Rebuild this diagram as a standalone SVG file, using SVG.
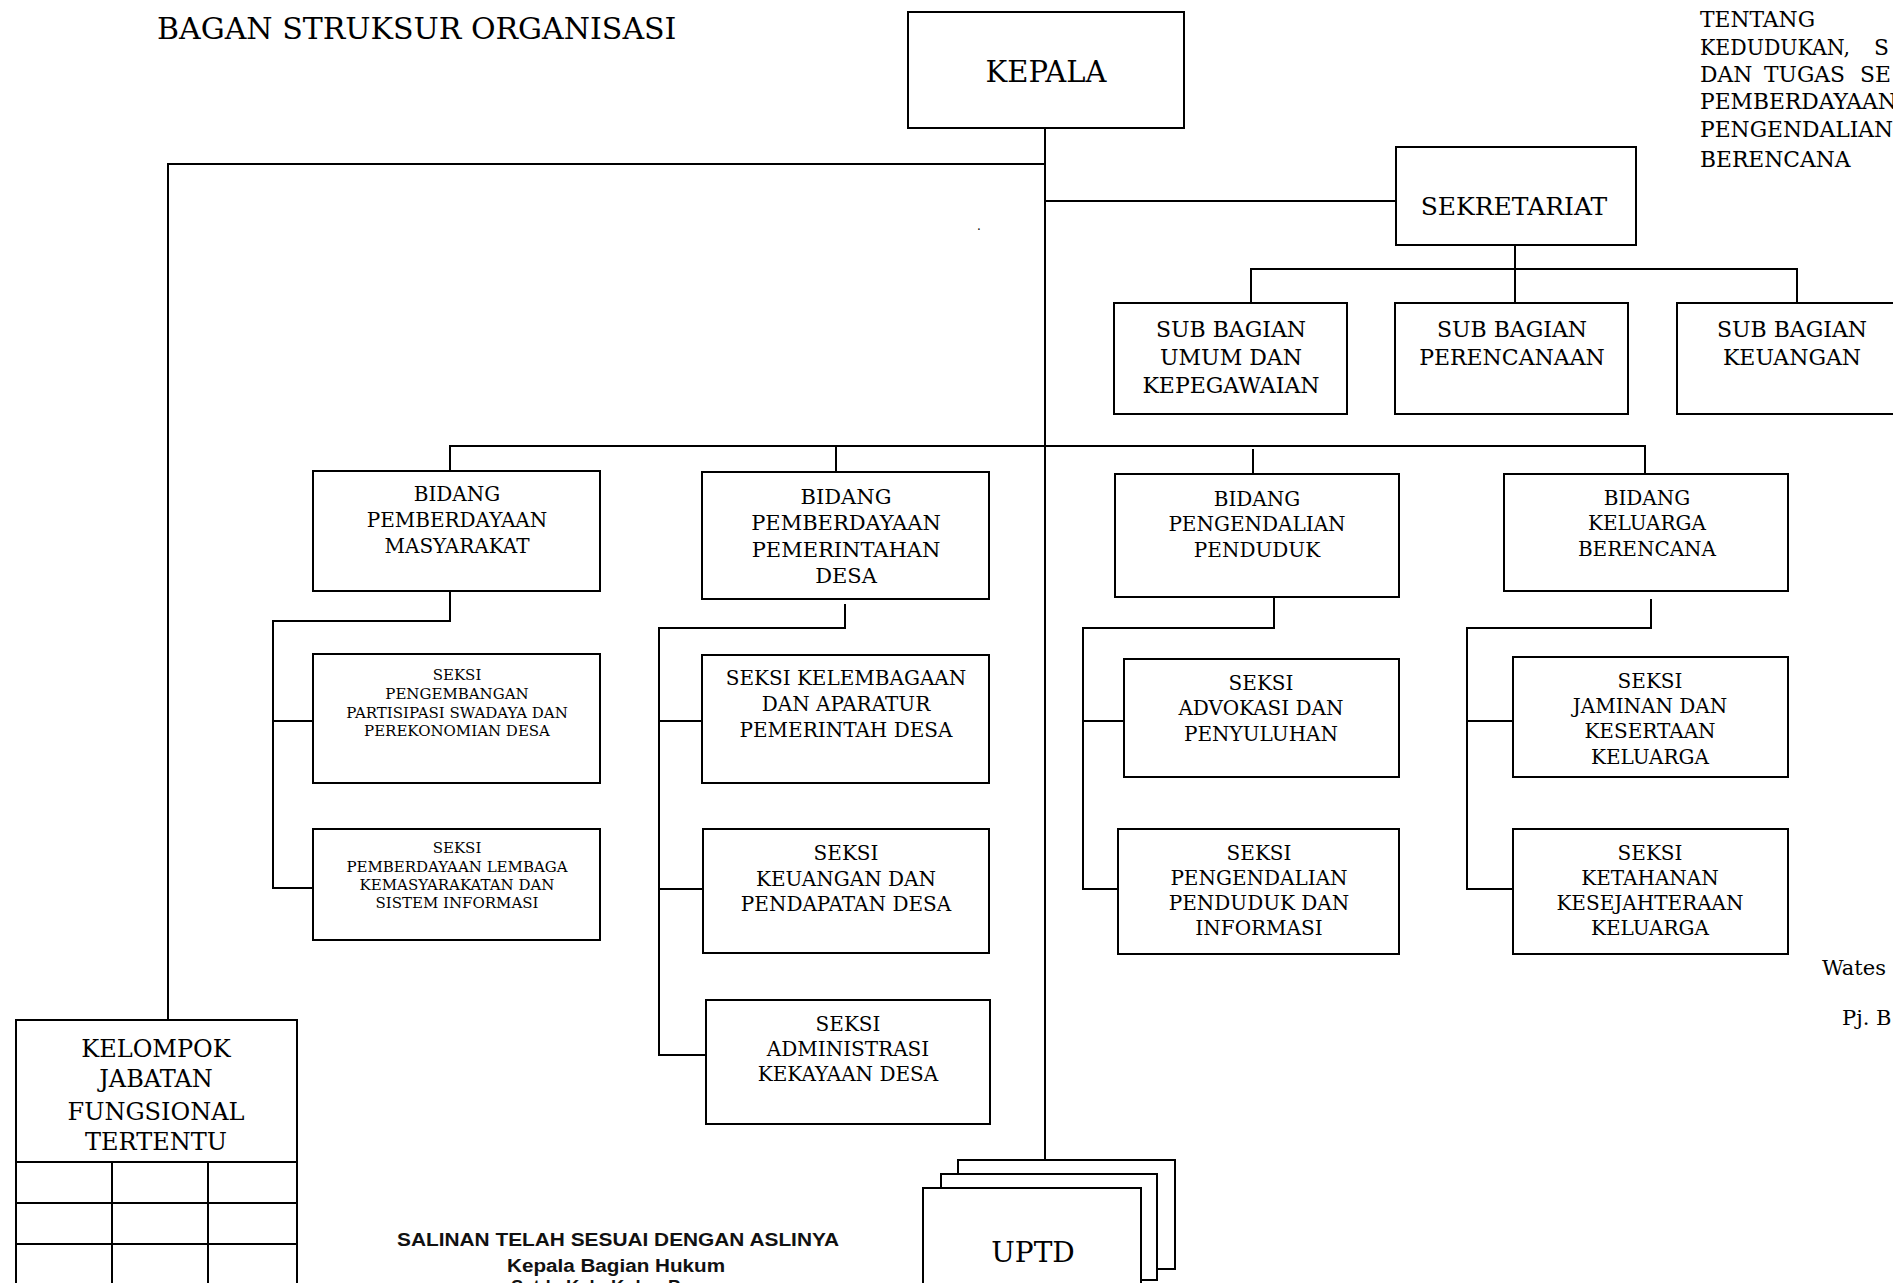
<svg xmlns="http://www.w3.org/2000/svg" width="1893" height="1283" viewBox="0 0 1893 1283">
<style>
.box{fill:#fff;stroke:#000;stroke-width:2}
.ln{fill:none;stroke:#000;stroke-width:2}
text{font-family:"DejaVu Serif","Liberation Serif",serif;fill:#000}
.c{text-anchor:middle}
.s20{font-size:20px}
.s21{font-size:21px}
.s22{font-size:22px}
.sm{font-size:15px}
.sal{font-family:"Liberation Sans",Arial,sans-serif;font-weight:bold;font-size:18px;fill:#111}
</style>
<rect x="0" y="0" width="1893" height="1283" fill="#fff"/>
<text x="157" y="39" font-size="30">BAGAN STRUKSUR ORGANISASI</text>
<g id="header-note" font-size="21.8">
<text x="1700" y="27">TENTANG</text>
<text y="55"><tspan x="1700" textLength="150" lengthAdjust="spacingAndGlyphs">KEDUDUKAN,</tspan><tspan x="1874">S</tspan></text>
<text y="82"><tspan x="1700">DAN</tspan><tspan x="1764">TUGAS</tspan><tspan x="1860">SE</tspan></text>
<text x="1700" y="109">PEMBERDAYAAN</text>
<text x="1700" y="137">PENGENDALIAN</text>
<text x="1700" y="167">BERENCANA</text>
<text x="1822" y="975" font-size="21">Wates</text>
<text x="1842" y="1025" font-size="21">Pj. B</text>
<text x="977" y="230" font-size="12">.</text>
</g>
<g id="connectors">
<path class="ln" d="M1045 128V1160"/>
<path class="ln" d="M1045 164H168V1020"/>
<path class="ln" d="M1045 201H1396"/>
<path class="ln" d="M1515 245V303"/>
<path class="ln" d="M1251 303V269H1797V303"/>
<path class="ln" d="M450 471V446H1645V474"/>
<path class="ln" d="M836 446V472"/>
<path class="ln" d="M1253 449V474"/>
<path class="ln" d="M450 591V621H273V888H313M273 721H313"/>
<path class="ln" d="M845 604V628H659V1055H706M659 721H702M659 889H703"/>
<path class="ln" d="M1274 597V628H1083V889H1118M1083 721H1124"/>
<path class="ln" d="M1651 599V628H1467V889H1513M1467 721H1513"/>
</g>
<g id="kepala"><rect class="box" x="908" y="12" width="276" height="116"/><text class="c" x="1046" y="82" font-size="29">KEPALA</text></g>
<g id="sekretariat"><rect class="box" x="1396" y="147" width="240" height="98"/><text class="c" x="1514" y="215" font-size="25">SEKRETARIAT</text></g>
<g id="sub-umum" class="s22"><rect class="box" x="1114" y="303" width="233" height="111"/><text class="c" x="1231" y="337">SUB BAGIAN</text><text class="c" x="1231" y="365">UMUM DAN</text><text class="c" x="1231" y="393">KEPEGAWAIAN</text></g>
<g id="sub-perencanaan" class="s22"><rect class="box" x="1395" y="303" width="233" height="111"/><text class="c" x="1512" y="337">SUB BAGIAN</text><text class="c" x="1512" y="365">PERENCANAAN</text></g>
<g id="sub-keuangan" class="s22"><rect class="box" x="1677" y="303" width="240" height="111"/><text class="c" x="1792" y="337">SUB BAGIAN</text><text class="c" x="1792" y="365">KEUANGAN</text></g>
<g id="bidang-pm" class="s20"><rect class="box" x="313" y="471" width="287" height="120"/><text class="c" x="457" y="501">BIDANG</text><text class="c" x="457" y="527">PEMBERDAYAAN</text><text class="c" x="457" y="553">MASYARAKAT</text></g>
<g id="bidang-ppd" class="s21"><rect class="box" x="702" y="472" width="287" height="127"/><text class="c" x="846" y="504">BIDANG</text><text class="c" x="846" y="530">PEMBERDAYAAN</text><text class="c" x="846" y="557">PEMERINTAHAN</text><text class="c" x="846" y="583">DESA</text></g>
<g id="bidang-pp" class="s20"><rect class="box" x="1115" y="474" width="284" height="123"/><text class="c" x="1257" y="506">BIDANG</text><text class="c" x="1257" y="531">PENGENDALIAN</text><text class="c" x="1257" y="557">PENDUDUK</text></g>
<g id="bidang-kb" class="s20"><rect class="box" x="1504" y="474" width="284" height="117"/><text class="c" x="1647" y="505">BIDANG</text><text class="c" x="1647" y="530">KELUARGA</text><text class="c" x="1647" y="556">BERENCANA</text></g>
<g id="seksi-pengembangan" class="sm"><rect class="box" x="313" y="654" width="287" height="129"/><text class="c" x="457" y="680">SEKSI</text><text class="c" x="457" y="699">PENGEMBANGAN</text><text class="c" x="457" y="718">PARTISIPASI SWADAYA DAN</text><text class="c" x="457" y="736">PEREKONOMIAN DESA</text></g>
<g id="seksi-lembaga" class="sm"><rect class="box" x="313" y="829" width="287" height="111"/><text class="c" x="457" y="853">SEKSI</text><text class="c" x="457" y="872">PEMBERDAYAAN LEMBAGA</text><text class="c" x="457" y="890">KEMASYARAKATAN DAN</text><text class="c" x="457" y="908">SISTEM INFORMASI</text></g>
<g id="seksi-kelembagaan" class="s20"><rect class="box" x="702" y="655" width="287" height="128"/><text class="c" x="846" y="685">SEKSI KELEMBAGAAN</text><text class="c" x="846" y="711">DAN APARATUR</text><text class="c" x="846" y="737">PEMERINTAH DESA</text></g>
<g id="seksi-keuangan" class="s20"><rect class="box" x="703" y="829" width="286" height="124"/><text class="c" x="846" y="860">SEKSI</text><text class="c" x="846" y="886">KEUANGAN DAN</text><text class="c" x="846" y="911">PENDAPATAN DESA</text></g>
<g id="seksi-administrasi" class="s20"><rect class="box" x="706" y="1000" width="284" height="124"/><text class="c" x="848" y="1031">SEKSI</text><text class="c" x="848" y="1056">ADMINISTRASI</text><text class="c" x="848" y="1081">KEKAYAAN DESA</text></g>
<g id="seksi-advokasi" class="s20"><rect class="box" x="1124" y="659" width="275" height="118"/><text class="c" x="1261" y="690">SEKSI</text><text class="c" x="1261" y="715">ADVOKASI DAN</text><text class="c" x="1261" y="741">PENYULUHAN</text></g>
<g id="seksi-pengendalian" class="s20"><rect class="box" x="1118" y="829" width="281" height="125"/><text class="c" x="1259" y="860">SEKSI</text><text class="c" x="1259" y="885">PENGENDALIAN</text><text class="c" x="1259" y="910">PENDUDUK DAN</text><text class="c" x="1259" y="935">INFORMASI</text></g>
<g id="seksi-jaminan" class="s20"><rect class="box" x="1513" y="657" width="275" height="120"/><text class="c" x="1650" y="688">SEKSI</text><text class="c" x="1650" y="713">JAMINAN DAN</text><text class="c" x="1650" y="738">KESERTAAN</text><text class="c" x="1650" y="764">KELUARGA</text></g>
<g id="seksi-ketahanan" class="s20"><rect class="box" x="1513" y="829" width="275" height="125"/><text class="c" x="1650" y="860">SEKSI</text><text class="c" x="1650" y="885">KETAHANAN</text><text class="c" x="1650" y="910">KESEJAHTERAAN</text><text class="c" x="1650" y="935">KELUARGA</text></g>
<g id="kelompok-jabatan">
<rect class="box" x="16" y="1020" width="281" height="290"/>
<path class="ln" d="M16 1162H297M16 1203H297M16 1244H297M112 1162V1290M208 1162V1290"/>
<text class="c" x="156" y="1057" font-size="24">KELOMPOK</text>
<text class="c" x="156" y="1087" font-size="24">JABATAN</text>
<text class="c" x="156" y="1120" font-size="24">FUNGSIONAL</text>
<text class="c" x="156" y="1150" font-size="24">TERTENTU</text>
</g>
<g id="uptd">
<path class="ln" d="M958 1174V1160H1175V1269H1157"/>
<path class="ln" d="M941 1188V1174H1157V1280H1141"/>
<rect class="box" x="923" y="1188" width="218" height="120"/>
<text class="c" x="1033" y="1262" font-size="28">UPTD</text>
</g>
<g id="salinan">
<text class="sal c" x="618" y="1246" textLength="442" lengthAdjust="spacingAndGlyphs">SALINAN TELAH SESUAI DENGAN ASLINYA</text>
<text class="sal c" x="616" y="1272" textLength="218" lengthAdjust="spacingAndGlyphs">Kepala Bagian Hukum</text>
<text class="sal c" x="616" y="1293" textLength="210" lengthAdjust="spacingAndGlyphs">Setda Kab. Kulon Progo</text>
</g>
</svg>
